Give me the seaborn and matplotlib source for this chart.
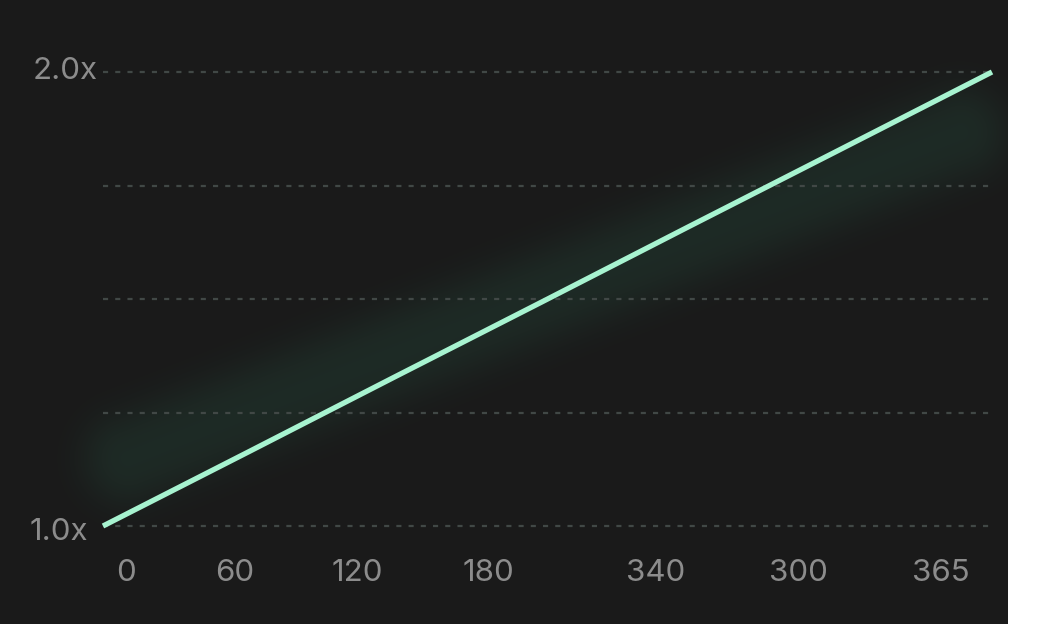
import numpy as np
import pandas as pd
import matplotlib
matplotlib.use('Agg')
import matplotlib.pyplot as plt
import seaborn as sns

# growth multiplier over a year
days = [0, 60, 120, 180, 240, 300, 365]
multiplier = [1.0, 1.164, 1.329, 1.493, 1.658, 1.822, 2.0]

x_tick_labels = ['0', '60', '120', '180', '340', '300', '365']
x_tick_pos = [9.6, 53.9, 104.5, 158.1, 226.7, 285.4, 344.1]
grid_levels = [1.0, 1.25, 1.5, 1.75, 2.0]
y_labels = {2.0: '2.0x', 1.0: '1.0x'}

df = pd.DataFrame({'day': days, 'mult': multiplier})

MINT = '#a7f3d0'
GRID = '#414846'
TXT = '#8c8c8c'

sns.set_theme(style='dark')
plt.rcParams['font.family'] = ['Inter', 'DejaVu Sans']

W, H = 1055, 624
fig = plt.figure(figsize=(W / 100, H / 100), dpi=100)
fig.patch.set_facecolor('white')

# background panel with soft glow behind the line
yy, xx = np.mgrid[0:H, 0:W].astype(float)
p0 = np.array([128.0, 458.0]); p1 = np.array([960.0, 132.0])
seg = p1 - p0
t = ((xx - p0[0]) * seg[0] + (yy - p0[1]) * seg[1]) / (seg @ seg)
t = np.clip(t, 0, 1)
dx = xx - (p0[0] + t * seg[0]); dy = yy - (p0[1] + t * seg[1])
d = np.sqrt(dx**2 + dy**2)
a = 0.13 * np.exp(-(d / 48.0) ** 2.6)
base = np.array([26, 26, 26], float)
glow = np.array([55, 150, 112], float)
img = base[None, None, :] * (1 - a[..., None]) + glow[None, None, :] * a[..., None]
img[:, 1008:, :] = 255
bg_ax = fig.add_axes([0, 0, 1, 1], zorder=0)
bg_ax.imshow(img.astype(np.uint8), extent=(0, W, H, 0), aspect='auto', interpolation='bilinear')
bg_ax.set_axis_off()

left, right = 103 / W, 992 / W
bottom, top = (H - 526) / H, (H - 72) / H
ax = fig.add_axes([left, bottom, right - left, top - bottom], zorder=1)
ax.set_facecolor('none')

for lv in grid_levels:
    ax.axhline(lv, color=GRID, lw=1.6, dashes=(2.3, 3.2), zorder=1, clip_on=False)

sns.lineplot(data=df, x='day', y='mult', ax=ax, color=MINT, lw=3.8,
             solid_capstyle='butt', zorder=3, clip_on=False)

ax.set_xlim(0, 365)
ax.set_ylim(1.0, 2.0)
ax.set_xticks(x_tick_pos, x_tick_labels)
ax.tick_params(axis='x', length=0, pad=24, labelsize=22.5, labelcolor=TXT)
ax.set_yticks([])
ax.set_xlabel(''); ax.set_ylabel('')
for s in ax.spines.values():
    s.set_visible(False)

ax.text(-5 / 889, 2.003, y_labels[2.0], transform=ax.get_yaxis_transform(), ha='right',
        va='center', fontsize=22.5, color=TXT)
ax.text(-15 / 889, 0.986, y_labels[1.0], transform=ax.get_yaxis_transform(), ha='right',
        va='center', fontsize=22.5, color=TXT)

fig.savefig('out.png', dpi=100, facecolor=fig.get_facecolor())
